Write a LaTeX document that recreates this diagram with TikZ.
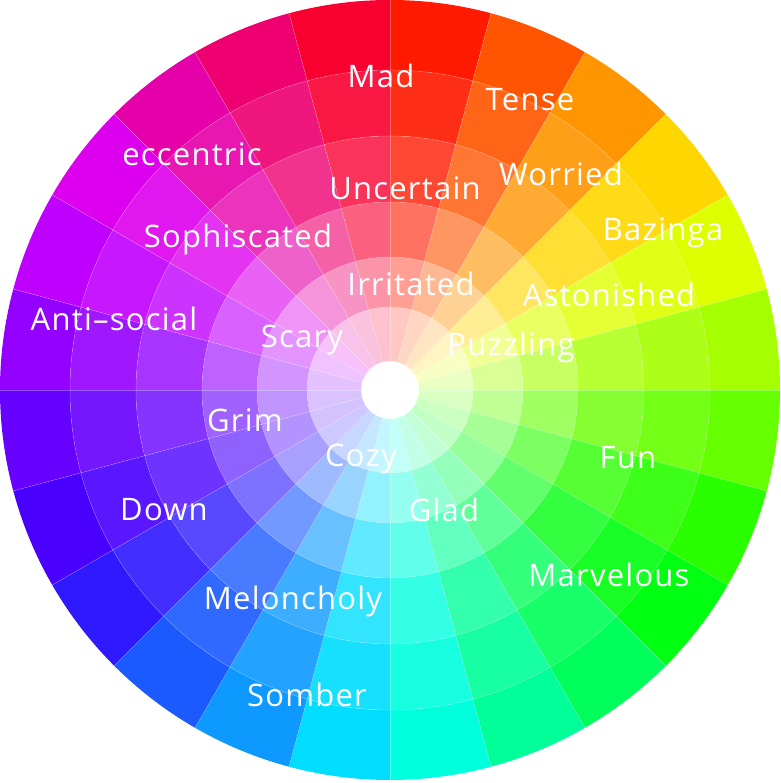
\documentclass[tikz,border=0pt]{standalone}
\usepackage{fontspec}
\setmainfont{Open Sans}[LetterSpace=4]
\usetikzlibrary{calc}
% outer hue of each wedge, clockwise from twelve o'clock
\definecolor{w0}{HTML}{FF1A00}
\definecolor{w1}{HTML}{FF5500}
\definecolor{w2}{HTML}{FF9500}
\definecolor{w3}{HTML}{FFD700}
\definecolor{w4}{HTML}{DDFF00}
\definecolor{w5}{HTML}{A6FF00}
\definecolor{w6}{HTML}{66FF00}
\definecolor{w7}{HTML}{2AFF00}
\definecolor{w8}{HTML}{00FF10}
\definecolor{w9}{HTML}{00FF5A}
\definecolor{w10}{HTML}{00FF99}
\definecolor{w11}{HTML}{00FFDD}
\definecolor{w12}{HTML}{00DDFF}
\definecolor{w13}{HTML}{0D99FF}
\definecolor{w14}{HTML}{1A5AFF}
\definecolor{w15}{HTML}{2F1AFF}
\definecolor{w16}{HTML}{4A00FF}
\definecolor{w17}{HTML}{6600FF}
\definecolor{w18}{HTML}{9400FF}
\definecolor{w19}{HTML}{C000FF}
\definecolor{w20}{HTML}{DD00EE}
\definecolor{w21}{HTML}{E600AA}
\definecolor{w22}{HTML}{EE0070}
\definecolor{w23}{HTML}{F80030}
\tikzset{
  mood/.style={font=\fontsize{31}{34}\selectfont,text=white,inner sep=0pt,anchor=base},
  seam/.style={draw=white,draw opacity=.3,line width=.5pt},
}

\begin{document}
\begin{tikzpicture}[x=1pt,y=1pt]
\path[use as bounding box] (0,0) rectangle (780,783);
\fill[white] (0,0) rectangle (780,783);
\coordinate (c) at (390,393);
% 24 wedges of 15 degrees, six rings each, fading toward white inward
\foreach \k in {0,...,23}{
  \foreach \ri/\ro/\pc in {29/83/24,83/133/42,133/188/62,188/254/80,254/320/91,320/390/100}{
    \pgfmathsetmacro{\a}{90-15*\k}
    \pgfmathsetmacro{\b}{75-15*\k}
    \fill[w\k!\pc!white] ($(c)+(\a:\ri pt)$) arc[start angle=\a,end angle=\b,radius=\ri pt]
      -- ($(c)+(\b:\ro pt)$) arc[start angle=\b,end angle=\a,radius=\ro pt] -- cycle;
  }
}
% faint seams between wedges and rings
\foreach \k [evaluate=\k as \t using 15*\k] in {0,...,23}
  \draw[seam] ($(c)+(\t:29pt)$) -- ($(c)+(\t:390pt)$);
\foreach \r in {83,133,188,254,320}
  \draw[seam] (c) circle[radius=\r pt];
% labels
\node[mood] (mad) at (381,695) {Mad};
\node[mood] (tense) at (530,672) {Tense};
\node[mood] (eccentric) at (192,617) {eccentric};
\node[mood] (uncertain) at (405,583) {Uncertain};
\node[mood] (worried) at (561,597) {Worried};
\node[mood] (bazinga) at (663,542) {Bazinga};
\node[mood] (sophiscated) at (238,535) {Sophiscated};
\node[mood] (irritated) at (411,487) {Irritated};
\node[mood] (astonished) at (609,476) {Astonished};
\node[mood] (antisocial) at (114,452) {Anti--social};
\node[mood] (scary) at (302,435) {Scary};
\node[mood] (puzzling) at (511,427) {Puzzling};
\node[mood] (grim) at (245,351) {Grim};
\node[mood] (cozy) at (361,316) {Cozy};
\node[mood] (fun) at (628,314) {Fun};
\node[mood] (down) at (164,262) {Down};
\node[mood] (glad) at (444,261) {Glad};
\node[mood] (marvelous) at (609,196) {Marvelous};
\node[mood] (meloncholy) at (293,173) {Meloncholy};
\node[mood] (somber) at (307,76) {Somber};
\end{tikzpicture}
\end{document}
